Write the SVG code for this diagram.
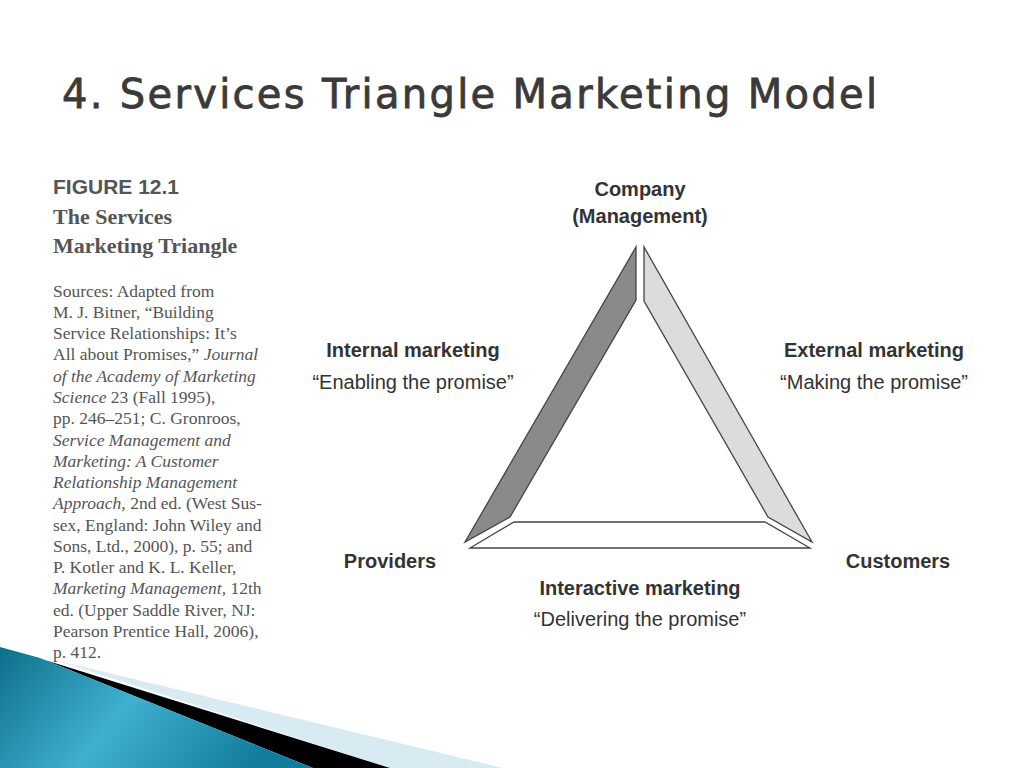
<svg xmlns="http://www.w3.org/2000/svg" width="1024" height="768" viewBox="0 0 1024 768">
<defs>
<linearGradient id="teal" x1="0" y1="0" x2="1" y2="0.3">
<stop offset="0" stop-color="#0d6f8a"/><stop offset="0.5" stop-color="#3fb0d0"/><stop offset="1" stop-color="#137e9c"/>
</linearGradient>
<style>
.lab{font-family:"Liberation Sans",Arial,sans-serif;font-size:20px;fill:#333}
.b{font-weight:bold}
.src{font-family:"Liberation Serif","Times New Roman",serif;font-size:17.5px;fill:#555}
.bar{stroke:#444;stroke-width:1.3}
</style>
</defs>
<rect width="1024" height="768" fill="#fff"/>
<text x="62" y="108" font-family="DejaVu Sans,Verdana,sans-serif" font-size="40" fill="#3a3a3a" stroke="#3a3a3a" stroke-width="0.8" textLength="815">4. Services Triangle Marketing Model</text>
<g id="sources">
<text x="53" y="194" font-family="Liberation Sans,Arial,sans-serif" font-weight="bold" font-size="21" fill="#555">FIGURE 12.1</text>
<text x="53" y="224" font-family="Liberation Serif,serif" font-weight="bold" font-size="22" fill="#555">The Services</text>
<text x="53" y="253" font-family="Liberation Serif,serif" font-weight="bold" font-size="22" fill="#555">Marketing Triangle</text>
<text class="src" x="53" y="297">Sources: Adapted from</text>
<text class="src" x="53" y="318">M. J. Bitner, “Building</text>
<text class="src" x="53" y="339">Service Relationships: It’s</text>
<text class="src" x="53" y="360">All about Promises,” <tspan font-style="italic">Journal</tspan></text>
<text class="src" x="53" y="382" font-style="italic">of the Academy of Marketing</text>
<text class="src" x="53" y="403"><tspan font-style="italic">Science</tspan> 23 (Fall 1995),</text>
<text class="src" x="53" y="424">pp. 246–251; C. Gronroos,</text>
<text class="src" x="53" y="446" font-style="italic">Service Management and</text>
<text class="src" x="53" y="467" font-style="italic">Marketing: A Customer</text>
<text class="src" x="53" y="488" font-style="italic">Relationship Management</text>
<text class="src" x="53" y="509"><tspan font-style="italic">Approach,</tspan> 2nd ed. (West Sus-</text>
<text class="src" x="53" y="531">sex, England: John Wiley and</text>
<text class="src" x="53" y="552">Sons, Ltd., 2000), p. 55; and</text>
<text class="src" x="53" y="573">P. Kotler and K. L. Keller,</text>
<text class="src" x="53" y="594"><tspan font-style="italic">Marketing Management,</tspan> 12th</text>
<text class="src" x="53" y="616">ed. (Upper Saddle River, NJ:</text>
<text class="src" x="53" y="637">Pearson Prentice Hall, 2006),</text>
<text class="src" x="53" y="658">p. 412.</text>
</g>
<g id="connectors">
<polygon class="bar" fill="#8a8a8a" points="636,247 636,300 510,517 465,542"/>
<polygon class="bar" fill="#dcdcdc" points="644,247 644,301 768,517 812,542"/>
<polygon class="bar" fill="#fff" points="514,522 765,522 810,548 470,548"/>
</g>
<g id="company"><text class="lab b" x="640" y="196" text-anchor="middle">Company</text><text class="lab b" x="640" y="223" text-anchor="middle">(Management)</text></g>
<g id="internal"><text class="lab b" x="413" y="357" text-anchor="middle">Internal marketing</text><text class="lab" x="413" y="389" text-anchor="middle">“Enabling the promise”</text></g>
<g id="external"><text class="lab b" x="874" y="357" text-anchor="middle">External marketing</text><text class="lab" x="874" y="389" text-anchor="middle">“Making the promise”</text></g>
<g id="providers"><text class="lab b" x="390" y="568" text-anchor="middle">Providers</text></g>
<g id="customers"><text class="lab b" x="898" y="568" text-anchor="middle">Customers</text></g>
<g id="interactive"><text class="lab b" x="640" y="595" text-anchor="middle">Interactive marketing</text><text class="lab" x="640" y="626" text-anchor="middle">“Delivering the promise”</text></g>
<g id="decor">
<polygon fill="#d8ebf3" points="55,660 503,768 390,768"/>
<polygon fill="#000" points="45,660 390,768 313,768"/>
<polygon fill="url(#teal)" points="0,647 40,658 313,768 0,768"/>
</g>
</svg>
